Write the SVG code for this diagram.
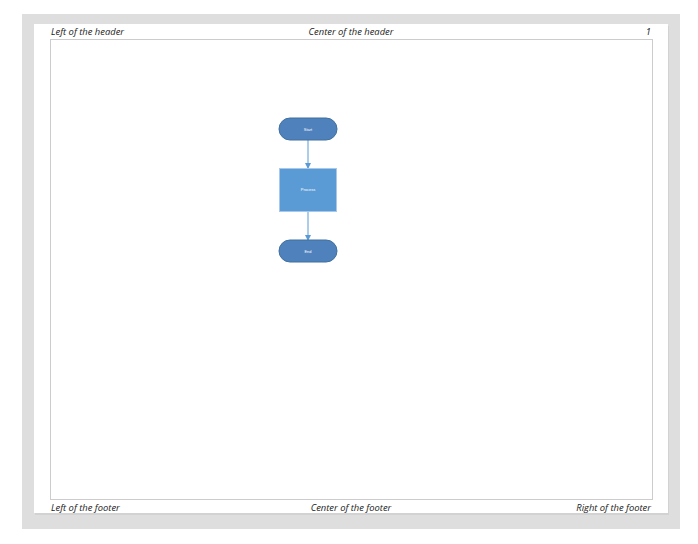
<svg xmlns="http://www.w3.org/2000/svg" width="698" height="544" viewBox="0 0 698 544">
  <defs>
    <style>
      .hf { font-family: "Open Sans", "DejaVu Sans", sans-serif; font-style: italic; font-size: 9.4px; fill: #1a1a1a; }
      .term { fill: #4f81bd; stroke: #41719c; stroke-width: 1; }
      .proc { fill: #5b9bd5; stroke: #a9c7ea; stroke-width: 1; }
      .lbl { font-family: "Liberation Sans", Arial, sans-serif; font-size: 4px; fill: #ffffff; text-anchor: middle; }
      .conn { stroke: #5b9bd5; stroke-width: 1; fill: none; }
    </style>
    <marker id="arrow" markerWidth="6" markerHeight="6" refX="5" refY="3" orient="auto" markerUnits="userSpaceOnUse">
      <path d="M0,0 L6,3 L0,6 Z" fill="#5b9bd5"/>
    </marker>
  </defs>
  <rect width="698" height="544" fill="#ffffff"/>
  <g id="frame">
    <rect x="22" y="14" width="658" height="515" fill="#dedede"/>
    <rect x="35" y="26" width="634" height="489" fill="#d2d2d2"/>
    <rect x="34" y="24" width="634" height="489" fill="#ffffff"/>
    <rect x="50.5" y="39.5" width="602" height="460" fill="none" stroke="#cccccc" stroke-width="1"/>
  </g>
  <g id="header">
    <text class="hf" x="51" y="35">Left of the header</text>
    <text class="hf" x="351" y="35" text-anchor="middle">Center of the header</text>
    <text class="hf" x="651" y="35" text-anchor="end">1</text>
  </g>
  <g id="footer">
    <text class="hf" x="51" y="511">Left of the footer</text>
    <text class="hf" x="351" y="511" text-anchor="middle">Center of the footer</text>
    <text class="hf" x="651" y="511" text-anchor="end">Right of the footer</text>
  </g>
  <g id="connectors">
    <line class="conn" x1="308" y1="140" x2="308" y2="168" marker-end="url(#arrow)"/>
    <line class="conn" x1="308" y1="211" x2="308" y2="240" marker-end="url(#arrow)"/>
  </g>
  <g id="start">
    <rect class="term" x="279" y="118" width="58" height="22" rx="11" ry="11"/>
    <text class="lbl" x="308" y="130.5">Start</text>
  </g>
  <g id="process">
    <rect class="proc" x="279.5" y="168.5" width="57" height="43"/>
    <text class="lbl" x="308" y="191">Process</text>
  </g>
  <g id="end">
    <rect class="term" x="279" y="240" width="58" height="22" rx="11" ry="11"/>
    <text class="lbl" x="308" y="252.5">End</text>
  </g>
</svg>
